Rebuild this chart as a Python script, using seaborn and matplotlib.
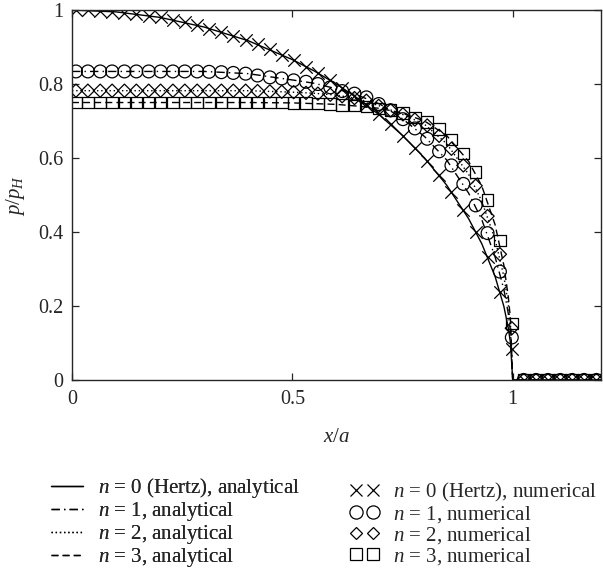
import numpy as np
import pandas as pd
import seaborn as sns
import matplotlib.pyplot as plt
from matplotlib.lines import Line2D

# numerical nodes, last 7 are outside the contact
x_num = [0.009, 0.036, 0.064, 0.091, 0.119, 0.146, 0.174, 0.201, 0.229, 0.256,
         0.284, 0.311, 0.339, 0.366, 0.394, 0.421, 0.449, 0.476, 0.503, 0.531,
         0.558, 0.586, 0.613, 0.641, 0.668, 0.696, 0.723, 0.751, 0.778, 0.806,
         0.833, 0.861, 0.888, 0.916, 0.943, 0.971, 0.998,
         1.025, 1.053, 1.080, 1.108, 1.135, 1.162, 1.190]

p0_num = [1.000, 0.999, 0.998, 0.996, 0.993, 0.989, 0.985, 0.980, 0.973, 0.967,
          0.959, 0.950, 0.941, 0.931, 0.919, 0.907, 0.894, 0.879, 0.864, 0.847,
          0.830, 0.810, 0.790, 0.768, 0.744, 0.718, 0.691, 0.660, 0.628, 0.592,
          0.553, 0.509, 0.460, 0.401, 0.333, 0.239, 0.085,
          0, 0, 0, 0, 0, 0, 0]
p1_num = [0.834, 0.834, 0.834, 0.834, 0.834, 0.834, 0.834, 0.834, 0.834, 0.834,
          0.834, 0.833, 0.832, 0.830, 0.828, 0.823, 0.818, 0.815, 0.810, 0.806,
          0.800, 0.791, 0.781, 0.774, 0.764, 0.746, 0.729, 0.705, 0.680, 0.652,
          0.618, 0.580, 0.530, 0.472, 0.397, 0.293, 0.115,
          0, 0, 0, 0, 0, 0, 0]
p2_num = [0.782, 0.782, 0.782, 0.782, 0.782, 0.782, 0.782, 0.782, 0.782, 0.782,
          0.782, 0.782, 0.782, 0.782, 0.782, 0.781, 0.780, 0.779, 0.778, 0.776,
          0.774, 0.771, 0.767, 0.762, 0.755, 0.741, 0.729, 0.718, 0.704, 0.688,
          0.660, 0.625, 0.580, 0.525, 0.443, 0.340, 0.140,
          0, 0, 0, 0, 0, 0, 0]
p3_num = [0.750, 0.750, 0.750, 0.750, 0.750, 0.750, 0.750, 0.750, 0.750, 0.750,
          0.750, 0.750, 0.750, 0.750, 0.750, 0.750, 0.750, 0.750, 0.749, 0.748,
          0.747, 0.746, 0.744, 0.742, 0.739, 0.734, 0.729, 0.721, 0.710, 0.697,
          0.678, 0.650, 0.612, 0.563, 0.487, 0.377, 0.153,
          0, 0, 0, 0, 0, 0, 0]

# analytical curves
x_ana = [0.0, 0.1, 0.2, 0.3, 0.4, 0.5, 0.55, 0.6, 0.65, 0.7, 0.75, 0.8, 0.85,
         0.9, 0.93, 0.96, 0.98, 0.99, 0.995, 1.0, 1.2]
p0_ana = [1.000, 0.995, 0.980, 0.954, 0.917, 0.866, 0.835, 0.800, 0.760, 0.714,
          0.661, 0.600, 0.527, 0.436, 0.368, 0.280, 0.199, 0.141, 0.100, 0.0, 0.0]
p1_ana = [0.834, 0.834, 0.834, 0.834, 0.828, 0.811, 0.802, 0.787, 0.769, 0.745,
          0.706, 0.658, 0.595, 0.505, 0.433, 0.333, 0.245, 0.180, 0.130, 0.0, 0.0]
p2_ana = [0.782, 0.782, 0.782, 0.782, 0.782, 0.778, 0.775, 0.770, 0.760, 0.740,
          0.718, 0.691, 0.639, 0.556, 0.483, 0.380, 0.280, 0.205, 0.150, 0.0, 0.0]
p3_ana = [0.750, 0.750, 0.750, 0.750, 0.750, 0.749, 0.747, 0.745, 0.740, 0.734,
          0.721, 0.700, 0.661, 0.591, 0.524, 0.420, 0.310, 0.225, 0.165, 0.0, 0.0]

labels_ana = [r'$n$ = 0 (Hertz), analytical', r'$n$ = 1, analytical',
              r'$n$ = 2, analytical', r'$n$ = 3, analytical']
labels_num = [r'$n$ = 0 (Hertz), numerical', r'$n$ = 1, numerical',
              r'$n$ = 2, numerical', r'$n$ = 3, numerical']

sns.set_style('ticks')
plt.rcParams['font.family'] = ['Liberation Serif', 'DejaVu Serif']
plt.rcParams['mathtext.fontset'] = 'custom'
plt.rcParams['mathtext.rm'] = 'Liberation Serif'
plt.rcParams['mathtext.it'] = 'Liberation Serif:italic'
plt.rcParams['xtick.direction'] = 'in'
plt.rcParams['ytick.direction'] = 'in'

fig = plt.figure(figsize=(6.03, 5.73), dpi=100)
ax = fig.add_axes([0.1194, 0.3368, 0.877, 0.6457])

styles = ['-', (0, (6, 3, 1, 3)), (0, (1, 2)), (0, (5, 3))]
for ys, ls in zip([p0_ana, p1_ana, p2_ana, p3_ana], styles):
    sns.lineplot(x=x_ana, y=ys, ax=ax, color='k', lw=1, linestyle=ls,
                 sort=False, estimator=None)

markers = ['x', 'o', 'D', 's']
sizes = [80, 85, 45, 70]
for ys, m, s in zip([p0_num, p1_num, p2_num, p3_num], markers, sizes):
    if m == 'x':
        sns.scatterplot(x=x_num, y=ys, ax=ax, marker=m, s=s, color='k',
                        linewidth=0.9)
    else:
        sns.scatterplot(x=x_num, y=ys, ax=ax, marker=m, s=s, facecolor='none',
                        edgecolor='k', linewidth=0.9)

ax.set_xlim(0, 1.2)
ax.set_ylim(0, 1)
ax.set_xticks([0, 0.5, 1])
ax.set_xticklabels(['0', '0.5', '1'])
ax.set_yticks([0, 0.2, 0.4, 0.6, 0.8, 1])
ax.set_yticklabels(['0', '0.2', '0.4', '0.6', '0.8', '1'])
ax.tick_params(top=True, right=True, labelsize=14.5, length=5, width=0.9)
ax.tick_params(axis='x', pad=7)
ax.tick_params(axis='y', pad=6)
for sp in ax.spines.values():
    sp.set_linewidth(1)
ax.set_xlabel(r'$x/a$', fontsize=15, labelpad=14)
ax.set_ylabel(r'$p/p_H$', fontsize=15, labelpad=8)

h_ana = [Line2D([], [], color='k', lw=1, linestyle=ls) for ls in styles]
h_num = [Line2D([], [], color='k', ls='', marker=m, ms=ms, mfc='none', mew=0.9)
         for m, ms in zip(markers, [9, 9.5, 6.5, 8.5])]

leg1 = fig.legend(h_ana, labels_ana, loc='upper left',
                  bbox_to_anchor=(51 / 603, 1 - 476 / 573), frameon=False,
                  fontsize=15, handlelength=1.55, handletextpad=0.7,
                  labelspacing=0.0, borderpad=0, borderaxespad=0)
leg2 = fig.legend(h_num, labels_num, loc='upper left',
                  bbox_to_anchor=(350 / 603, 1 - 481 / 573), frameon=False,
                  fontsize=15, handlelength=1.42, handletextpad=0.65,
                  labelspacing=0.0, borderpad=0, borderaxespad=0, numpoints=2)
fig.add_artist(leg1)

fig.savefig('out.png', dpi=100)
